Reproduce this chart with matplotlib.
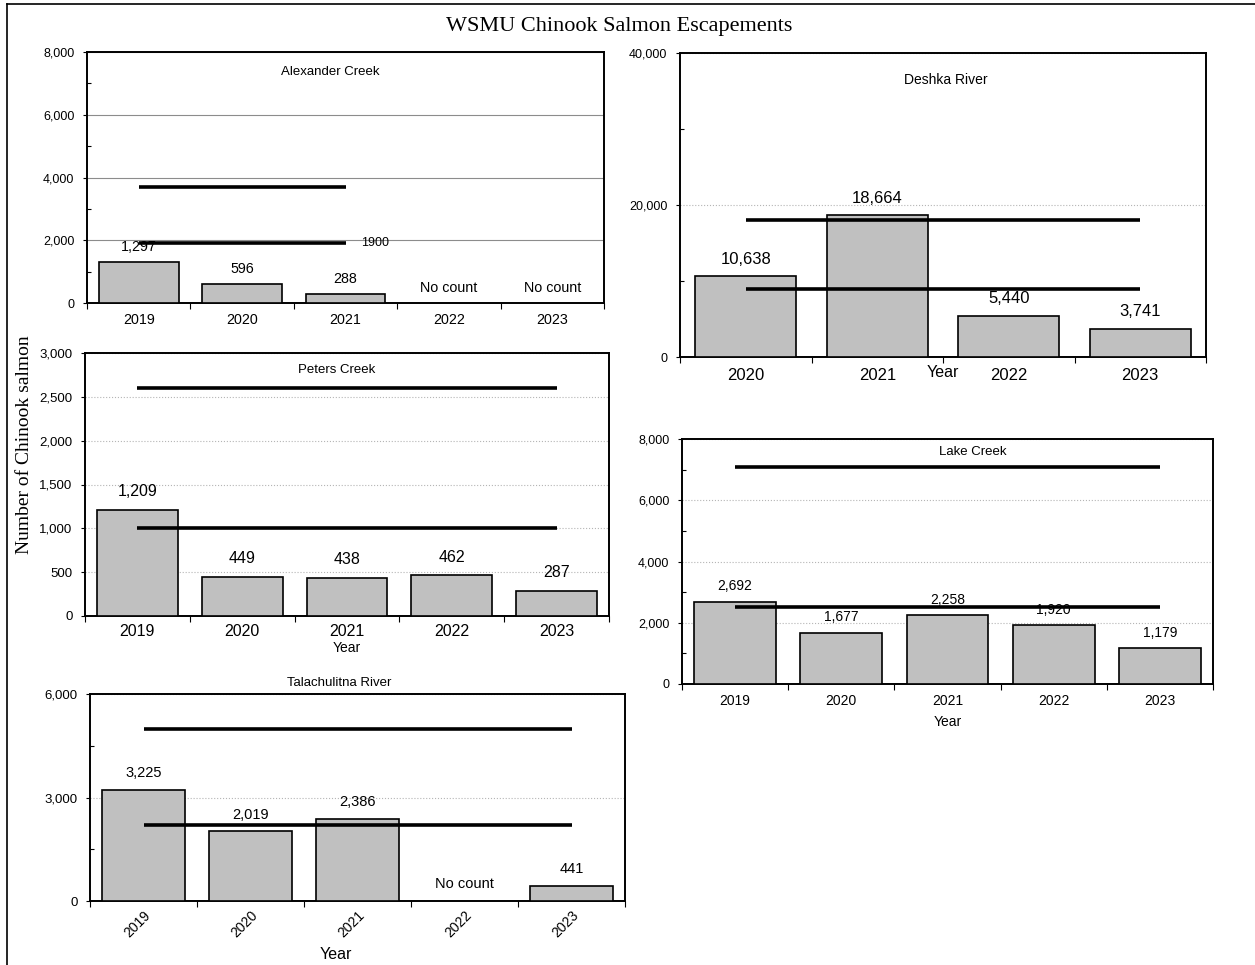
import matplotlib
matplotlib.use("Agg")
import matplotlib.pyplot as plt
from matplotlib.ticker import FuncFormatter, MultipleLocator
from matplotlib.lines import Line2D

plt.rcParams['font.family'] = ['Liberation Sans', 'DejaVu Sans']

# data
alex_years = ['2019', '2020', '2021', '2022', '2023']
alex_counts = [1297, 596, 288, None, None]
alex_goal = [1900, 3700]
alex_goal_span = ('2019', '2021')

deshka_years = ['2020', '2021', '2022', '2023']
deshka_counts = [10638, 18664, 5440, 3741]
deshka_goal = [9000, 18000]
deshka_goal_span = ('2020', '2023')

peters_years = ['2019', '2020', '2021', '2022', '2023']
peters_counts = [1209, 449, 438, 462, 287]
peters_goal = [1000, 2600]
peters_goal_span = ('2019', '2023')

lake_years = ['2019', '2020', '2021', '2022', '2023']
lake_counts = [2692, 1677, 2258, 1920, 1179]
lake_goal = [2500, 7100]
lake_goal_span = ('2019', '2023')

tala_years = ['2019', '2020', '2021', '2022', '2023']
tala_counts = [3225, 2019, 2386, None, 441]
tala_goal = [2200, 5000]
tala_goal_span = ('2019', '2023')

W, H = 1255, 965
fig = plt.figure(figsize=(W / 100, H / 100), dpi=100)


def pix_axes(x0, y0, x1, y1):
    return fig.add_axes([x0 / W, 1 - y1 / H, (x1 - x0) / W, (y1 - y0) / H])


comma = FuncFormatter(lambda v, p: f"{int(v):,}")


def panel(ax, years, counts, goals, span, ymax, ystep, yminor, fs, ytfs,
          grid_style=':', grid_color='#b5b5b5', label_off=11, xpad=7,
          goal_label=None):
    n = len(years)
    x = list(range(n))
    ax.set_xlim(-0.5, n - 0.5)
    ax.set_ylim(0, ymax)
    for i, v in enumerate(counts):
        if v is None:
            ax.annotate('No count', (i, 0), xytext=(0, label_off),
                        textcoords='offset points', ha='center', va='center',
                        fontsize=fs, zorder=2)
            continue
        ax.bar(i, v, width=0.77, color='#c0c0c0', edgecolor='black',
               linewidth=1.2, zorder=3)
        ax.annotate(f"{v:,}", (i, v), xytext=(0, label_off),
                    textcoords='offset points', ha='center', va='center',
                    fontsize=fs, zorder=2)
    i0, i1 = years.index(span[0]), years.index(span[1])
    for g in goals:
        ax.plot([i0, i1], [g, g], color='black', lw=2.6, zorder=5,
                solid_capstyle='butt')
    if goal_label is not None:
        ax.annotate(goal_label, (i1, goals[0]), xytext=(11, 0),
                    textcoords='offset points', ha='left', va='center',
                    fontsize=9)
    ax.yaxis.set_major_locator(MultipleLocator(ystep))
    if yminor:
        ax.yaxis.set_minor_locator(MultipleLocator(yminor))
    ax.yaxis.set_major_formatter(comma)
    ax.tick_params(axis='y', which='major', direction='out', length=3,
                   width=0.8, labelsize=ytfs, pad=6)
    ax.tick_params(axis='y', which='minor', direction='in', length=3,
                   width=0.8)
    ax.set_xticks(x)
    ax.set_xticklabels(years)
    ax.tick_params(axis='x', which='major', length=0, labelsize=fs, pad=xpad)
    ax.set_xticks([k - 0.5 for k in range(n + 1)], minor=True)
    ax.tick_params(axis='x', which='minor', direction='out', length=4,
                   width=0.8)
    for s in ax.spines.values():
        s.set_linewidth(1.4)
    ax.grid(axis='y', which='major', linestyle=grid_style, color=grid_color,
            lw=0.8, zorder=0)
    ax.set_axisbelow(True)


# Alexander Creek
ax1 = pix_axes(87, 52, 604, 303)
panel(ax1, alex_years, alex_counts, alex_goal, alex_goal_span, 8000, 2000,
      1000, 10.3, 9, grid_style='-', grid_color='#8c8c8c', label_off=11,
      goal_label='1900')
ax1.text(0.47, 0.92, 'Alexander Creek', transform=ax1.transAxes,
         ha='center', va='center', fontsize=9.5)

# Deshka River
ax2 = pix_axes(680, 53, 1206, 357)
panel(ax2, deshka_years, deshka_counts, deshka_goal, deshka_goal_span, 40000,
      20000, 10000, 12, 9, label_off=12, xpad=8)
ax2.text(0.505, 0.91, 'Deshka River', transform=ax2.transAxes,
         ha='center', va='center', fontsize=10)
ax2.text(0.5, -0.05, 'Year', transform=ax2.transAxes, ha='center',
         va='center', fontsize=11.5)

# Peters Creek
ax3 = pix_axes(85, 353, 609, 616)
panel(ax3, peters_years, peters_counts, peters_goal, peters_goal_span, 3000,
      500, None, 11.5, 9.5, label_off=13, xpad=6)
ax3.text(0.48, 0.935, 'Peters Creek', transform=ax3.transAxes,
         ha='center', va='center', fontsize=9.5)
ax3.text(0.5, -0.122, 'Year', transform=ax3.transAxes, ha='center',
         va='center', fontsize=10)

# Lake Creek
ax4 = pix_axes(682, 439, 1213, 684)
panel(ax4, lake_years, lake_counts, lake_goal, lake_goal_span, 8000, 2000,
      1000, 10, 9, label_off=11, xpad=7)
ax4.text(0.548, 0.947, 'Lake Creek', transform=ax4.transAxes,
         ha='center', va='center', fontsize=9.5)
ax4.text(0.5, -0.155, 'Year', transform=ax4.transAxes, ha='center',
         va='center', fontsize=10)

# Talachulitna River
ax5 = pix_axes(90, 694, 625, 901)
panel(ax5, tala_years, tala_counts, tala_goal, tala_goal_span, 6000, 3000,
      1500, 10.5, 9.5, label_off=12, xpad=5)
ax5.set_xticklabels(tala_years, rotation=45, ha='right',
                    rotation_mode='anchor', fontsize=10)
ax5.text(0.465, 1.055, 'Talachulitna River', transform=ax5.transAxes,
         ha='center', va='center', fontsize=9.5)
ax5.text(0.46, -0.26, 'Year', transform=ax5.transAxes, ha='center',
         va='center', fontsize=11.5)

# figure title, y label, frame
fig.text(619 / W, 1 - 27 / H, 'WSMU Chinook Salmon Escapements',
         ha='center', va='center', fontsize=16, family='Liberation Serif')
fig.text(25 / W, 1 - 445 / H, 'Number of Chinook salmon', rotation=90,
         ha='center', va='center', fontsize=14, family='Liberation Serif')
fig.add_artist(Line2D([7 / W, 7 / W], [0, 1 - 4 / H], color='black', lw=1.2,
                      transform=fig.transFigure))
fig.add_artist(Line2D([7 / W, 1], [1 - 4 / H, 1 - 4 / H], color='black',
                      lw=1.2, transform=fig.transFigure))

fig.savefig('out.png', dpi=100)
